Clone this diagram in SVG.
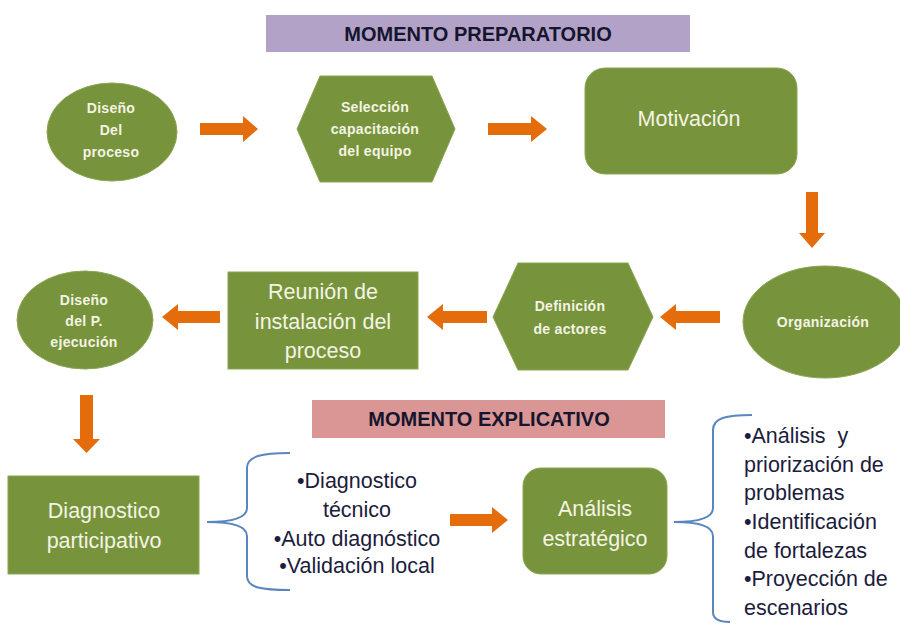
<svg xmlns="http://www.w3.org/2000/svg" width="900" height="624" viewBox="0 0 900 624">
<style>
.g{fill:#77933c;stroke:#8aa653;stroke-width:1}
.t{font-family:"Liberation Sans",Arial,sans-serif;fill:#f4f4e4;text-anchor:middle}
.s{font-size:14px;font-weight:bold;letter-spacing:0.3px}
.m{font-size:21.5px}
.d{font-family:"Liberation Sans",Arial,sans-serif;fill:#1c1c3c;font-size:21.5px}
.b{font-family:"Liberation Sans",Arial,sans-serif;fill:#15152e;font-size:20px;font-weight:bold;text-anchor:middle}
.a{fill:#e46c0a}
.br{fill:none;stroke:#5a86c0;stroke-width:2}
</style>
<rect width="900" height="624" fill="#ffffff"/>
<g id="banner-preparatorio">
<rect x="266" y="15" width="424" height="37" fill="#b3a2c7"/>
<text class="b" x="478" y="41">MOMENTO PREPARATORIO</text>
</g>
<g id="banner-explicativo">
<rect x="312" y="400" width="353" height="38" fill="#d99694"/>
<text class="b" x="489" y="426">MOMENTO EXPLICATIVO</text>
</g>
<g id="diseno-proceso">
<ellipse class="g" cx="112" cy="132" rx="65" ry="49"/>
<text class="t s" x="111" y="113">Diseño</text>
<text class="t s" x="111" y="135">Del</text>
<text class="t s" x="111" y="157">proceso</text>
</g>
<g id="seleccion">
<polygon class="g" points="297,129 320,76 432,76 455,129 432,182 320,182"/>
<text class="t s" x="375" y="112">Selección</text>
<text class="t s" x="375" y="134">capacitación</text>
<text class="t s" x="375" y="156">del equipo</text>
</g>
<g id="motivacion">
<rect class="g" x="585" y="68" width="212" height="106" rx="20"/>
<text class="t m" x="689" y="126">Motivación</text>
</g>
<g id="organizacion">
<ellipse class="g" cx="825" cy="322" rx="82" ry="56"/>
<text class="t s" x="823" y="327">Organización</text>
</g>
<g id="definicion">
<polygon class="g" points="493,317 518,263 628,263 653,317 628,370 518,370"/>
<text class="t s" x="570" y="311">Definición</text>
<text class="t s" x="570" y="334">de actores</text>
</g>
<g id="reunion">
<rect class="g" x="228" y="272" width="190" height="97"/>
<text class="t m" x="323" y="299">Reunión de</text>
<text class="t m" x="323" y="329">instalación del</text>
<text class="t m" x="323" y="358">proceso</text>
</g>
<g id="diseno-ejecucion">
<ellipse class="g" cx="85" cy="320" rx="68" ry="49"/>
<text class="t s" x="84" y="305">Diseño</text>
<text class="t s" x="84" y="326">del P.</text>
<text class="t s" x="84" y="347">ejecución</text>
</g>
<g id="diagnostico">
<rect class="g" x="8" y="476" width="191" height="98"/>
<text class="t m" x="104" y="518">Diagnostico</text>
<text class="t m" x="104" y="548">participativo</text>
</g>
<g id="diagnostico-items">
<path class="br" d="M290,453 C262,453 247,456 247,468 L247,508 C247,518 230,522 207,522 C230,522 247,526 247,536 L247,576 C247,588 262,590 290,590"/>
<text class="d" text-anchor="middle" x="357" y="488">•Diagnostico</text>
<text class="d" text-anchor="middle" x="357" y="517">técnico</text>
<text class="d" text-anchor="middle" x="357" y="546">•Auto diagnóstico</text>
<text class="d" text-anchor="middle" x="357" y="573">•Validación local</text>
</g>
<g id="analisis">
<rect class="g" x="523" y="468" width="144" height="106" rx="18"/>
<text class="t m" x="595" y="516">Análisis</text>
<text class="t m" x="595" y="546">estratégico</text>
</g>
<g id="analisis-items">
<path class="br" d="M752,415 C726,415 713,418 713,430 L713,508 C713,518 698,522 674,522 C698,522 713,526 713,536 L713,612 C713,620 720,622 730,622"/>
<text class="d" x="744" y="443" style="white-space:pre">•Análisis  y</text>
<text class="d" x="744" y="472">priorización de</text>
<text class="d" x="744" y="500">problemas</text>
<text class="d" x="744" y="529">•Identificación</text>
<text class="d" x="744" y="558">de fortalezas</text>
<text class="d" x="744" y="586">•Proyección de</text>
<text class="d" x="744" y="615">escenarios</text>
</g>
<g id="connectors">
<polygon class="a" points="200,123 243,123 243,116 258,129 243,142 243,135 200,135"/>
<polygon class="a" points="488,123 531,123 531,116 547,129 531,142 531,135 488,135"/>
<polygon class="a" points="806,192 818,192 818,233 825,233 812,248 799,233 806,233"/>
<polygon class="a" points="720,311 676,311 676,304 660,317 676,330 676,323 720,323"/>
<polygon class="a" points="487,311 443,311 443,304 427,317 443,330 443,323 487,323"/>
<polygon class="a" points="220,311 178,311 178,304 162,317 178,330 178,323 220,323"/>
<polygon class="a" points="80,395 93,395 93,439 100,439 86.5,453 73,439 80,439"/>
<polygon class="a" points="450,514 492,514 492,507 508,520 492,533 492,526 450,526"/>
</g>
</svg>
